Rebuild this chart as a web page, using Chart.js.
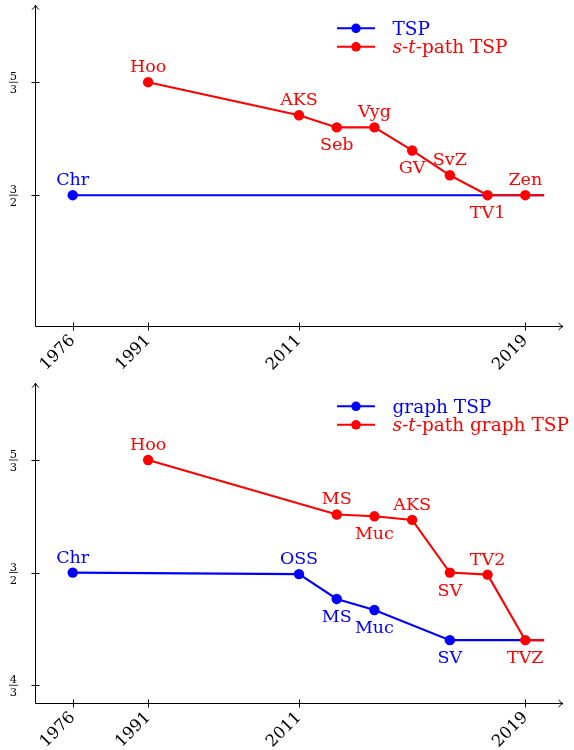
<!DOCTYPE html>
<html><head><meta charset="utf-8">
<script src="https://cdn.jsdelivr.net/npm/chart.js@4/dist/chart.umd.min.js"></script>
<style>
html,body{margin:0;padding:0;background:#fff;width:574px;height:750px;overflow:hidden;}
.p{position:absolute;left:0;width:574px;}
</style>
</head><body>
<div class="p" style="top:0;height:378px"><canvas id="c1"></canvas></div>
<div class="p" style="top:378px;height:372px"><canvas id="c2"></canvas></div>
<script>
// ---------- data ----------
const xTickPositions = [0, 2, 6, 12];
const xTickLabels = ['1976', '1991', '2011', '2019'];

// top panel y ticks (fractions)
const topYNum = [5, 3];
const topYDen = [3, 2];
// bottom panel y ticks
const botYNum = [5, 3, 4];
const botYDen = [3, 2, 3];

// top panel: TSP
const tspX = [0, 12.5];
const tspY = [1.5, 1.5];
const tspNames = ['Chr', ''];
const tspPlace = ['a', ''];
// top panel: s-t-path TSP
const stX = [2, 6, 7, 8, 9, 10, 11, 12, 12.5];
const stY = [1.6667, 1.618, 1.6, 1.6, 1.566, 1.5294, 1.5, 1.5, 1.5];
const stNames = ['Hoo', 'AKS', 'Seb', 'Vyg', 'GV', 'SvZ', 'TV1', 'Zen', ''];
const stPlace = ['a', 'a', 'b', 'a', 'b', 'a', 'b', 'a', ''];

// bottom panel: graph TSP
const gX = [0, 6, 7, 8, 10, 12.5];
const gY = [1.5, 1.4977, 1.461, 1.4447, 1.4, 1.4];
const gNames = ['Chr', 'OSS', 'MS', 'Muc', 'SV', ''];
const gPlace = ['a', 'a', 'b', 'b', 'b', ''];
// bottom panel: s-t-path graph TSP
const sgX = [2, 7, 8, 9, 10, 11, 12, 12.5];
const sgY = [1.6667, 1.586, 1.5833, 1.578, 1.5, 1.497, 1.4, 1.4];
const sgNames = ['Hoo', 'MS', 'Muc', 'AKS', 'SV', 'TV2', 'TVZ', ''];
const sgPlace = ['a', 'a', 'b', 'a', 'b', 'a', 'b', ''];

const legendTop = [
  [['TSP', 0]],
  [['s', 1], ['-', 0], ['t', 1], ['-path TSP', 0]]
];
const legendBot = [
  [['graph TSP', 0]],
  [['s', 1], ['-', 0], ['t', 1], ['-path graph TSP', 0]]
];

// ---------- styling ----------
const BLUE = '#0000ff', RED = '#ff0000';
const FONT = "'DejaVu Serif', 'Liberation Serif', serif";
const LABEL_SIZE = 17.5;
const LEGEND_SIZE = 18.5;

function pts(xs, ys) { return xs.map((x, i) => ({ x: x, y: ys[i] })); }

function ds(label, xs, ys, names, place, color, order) {
  return {
    label: label,
    data: pts(xs, ys),
    names: names,
    place: place,
    borderColor: color,
    backgroundColor: color,
    borderWidth: 2.1,
    pointRadius: ctx => (names[ctx.dataIndex] ? 5.2 : 0),
    pointHoverRadius: ctx => (names[ctx.dataIndex] ? 5.2 : 0),
    pointBorderWidth: 0,
    tension: 0,
    order: order,
    clip: false
  };
}

const decor = {
  id: 'decor',
  beforeDatasetsDraw(chart, args, opts) {
    const { ctx, chartArea: ca, scales } = chart;
    const x = scales.x, y = scales.y;
    ctx.save();
    ctx.strokeStyle = '#000';
    ctx.lineWidth = 1;
    const x0 = Math.round(ca.left) + 0.5;
    const y0 = Math.round(ca.bottom) + 0.5;
    ctx.beginPath();
    ctx.moveTo(x0, y0); ctx.lineTo(x0, ca.top);
    ctx.moveTo(x0, y0); ctx.lineTo(ca.right, y0);
    // arrow heads
    ctx.moveTo(x0 - 3.5, ca.top + 4.5); ctx.quadraticCurveTo(x0 - 0.5, ca.top + 1.5, x0, ca.top);
    ctx.quadraticCurveTo(x0 + 0.5, ca.top + 1.5, x0 + 3.5, ca.top + 4.5);
    ctx.moveTo(ca.right - 4.5, y0 - 3.5); ctx.quadraticCurveTo(ca.right - 1.5, y0 - 0.5, ca.right, y0);
    ctx.quadraticCurveTo(ca.right - 1.5, y0 + 0.5, ca.right - 4.5, y0 + 3.5);
    // x ticks
    xTickPositions.forEach(v => {
      const px = Math.round(x.getPixelForValue(v)) + 0.5;
      ctx.moveTo(px, y0 - 4); ctx.lineTo(px, y0 + 4);
    });
    // y ticks
    opts.yNum.forEach((n, i) => {
      const py = Math.round(y.getPixelForValue(n / opts.yDen[i])) + 0.5;
      ctx.moveTo(x0 - 4, py); ctx.lineTo(x0 + 4, py);
    });
    ctx.stroke();
    // fraction labels
    ctx.fillStyle = '#000';
    ctx.font = '11.5px ' + FONT;
    ctx.textAlign = 'center';
    ctx.textBaseline = 'alphabetic';
    opts.yNum.forEach((n, i) => {
      const py = y.getPixelForValue(n / opts.yDen[i]);
      const cx = 13.5;
      ctx.fillText(String(n), cx, py - 1.8);
      ctx.fillText(String(opts.yDen[i]), cx, py + 11);
      ctx.fillRect(cx - 4.5, py - 0.4, 9, 0.8);
    });
    ctx.restore();
  },
  afterDatasetsDraw(chart, args, opts) {
    const { ctx } = chart;
    ctx.save();
    // point labels
    ctx.font = LABEL_SIZE + 'px ' + FONT;
    ctx.textAlign = 'center';
    ctx.textBaseline = 'alphabetic';
    chart.data.datasets.forEach((d, di) => {
      const meta = chart.getDatasetMeta(di);
      ctx.fillStyle = d.borderColor;
      meta.data.forEach((el, i) => {
        const name = d.names[i];
        if (!name) return;
        const yy = d.place[i] === 'a' ? el.y - 10 : el.y + 23;
        ctx.fillText(name, el.x, yy);
      });
    });
    // legend
    const rows = opts.legend;
    const rowY = [28.3, 46.8];
    rows.forEach((segs, r) => {
      const d = chart.data.datasets[r];
      const ly = rowY[r];
      ctx.strokeStyle = d.borderColor;
      ctx.fillStyle = d.borderColor;
      ctx.lineWidth = 2.1;
      ctx.beginPath();
      ctx.moveTo(337, ly); ctx.lineTo(375, ly);
      ctx.stroke();
      ctx.beginPath();
      ctx.arc(356, ly, 4.8, 0, Math.PI * 2);
      ctx.fill();
      let tx = 392.5;
      ctx.textAlign = 'left';
      segs.forEach(([t, it]) => {
        ctx.font = (it ? 'italic ' : '') + LEGEND_SIZE + 'px ' + FONT;
        ctx.fillText(t, tx, ly + 6.3);
        tx += ctx.measureText(t).width;
      });
    });
    ctx.restore();
  }
};

function makeChart(id, datasets, yNum, yDen, legend, xAxisHeight) {
  return new Chart(document.getElementById(id), {
    type: 'line',
    data: { datasets: datasets },
    options: {
      responsive: true,
      maintainAspectRatio: false,
      animation: false,
      events: [],
      layout: { padding: { left: 35, right: 11, top: 5, bottom: 0 } },
      plugins: {
        legend: { display: false },
        tooltip: { enabled: false },
        decor: { yNum: yNum, yDen: yDen, legend: legend }
      },
      scales: {
        x: {
          type: 'linear',
          min: -1,
          max: 13,
          grid: { display: false, drawTicks: false },
          border: { display: false },
          afterBuildTicks: s => { s.ticks = xTickPositions.map(v => ({ value: v })); },
          afterFit: s => { s.height = xAxisHeight; s.paddingLeft = 0; s.paddingRight = 0; },
          ticks: {
            autoSkip: false,
            minRotation: 45,
            maxRotation: 45,
            padding: 5,
            color: '#000',
            font: { family: FONT, size: 16.5 },
            callback: (v) => {
              const i = xTickPositions.indexOf(v);
              return i >= 0 ? xTickLabels[i] : '';
            }
          }
        },
        y: {
          type: 'linear',
          display: false,
          min: 1.307,
          max: 1.7803
        }
      }
    },
    plugins: [decor]
  });
}

makeChart('c1', [
  ds('TSP', tspX, tspY, tspNames, tspPlace, BLUE, 2),
  ds('s-t-path TSP', stX, stY, stNames, stPlace, RED, 1)
], topYNum, topYDen, legendTop, 52);

makeChart('c2', [
  ds('graph TSP', gX, gY, gNames, gPlace, BLUE, 2),
  ds('s-t-path graph TSP', sgX, sgY, sgNames, sgPlace, RED, 1)
], botYNum, botYDen, legendBot, 47);
</script>
</body></html>
